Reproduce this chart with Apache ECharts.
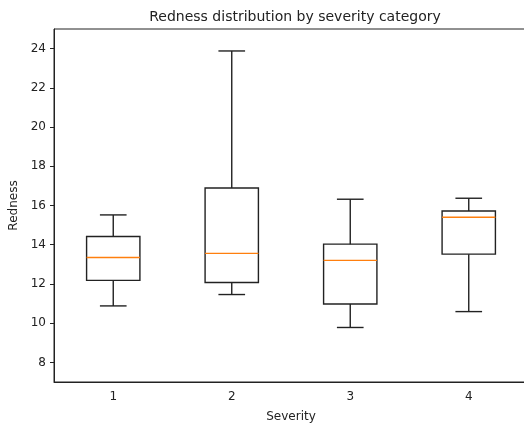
<!DOCTYPE html>
<html>
<head>
<meta charset="utf-8">
<script src="https://cdn.jsdelivr.net/npm/echarts@6/dist/echarts.min.js"></script>
<style>
  html, body { margin: 0; padding: 0; background: #fff; }
  #main { width: 524px; height: 429px; }
</style>
</head>
<body>
<div id="main"></div>
<script>
const categories = ["1", "2", "3", "4"];
const lowerWhisker = [10.88, 11.46, 9.78, 10.59];
const q1 = [12.18, 12.07, 10.98, 13.52];
const median = [13.35, 13.56, 13.2, 15.4];
const q3 = [14.42, 16.89, 14.03, 15.72];
const upperWhisker = [15.52, 23.88, 16.32, 16.37];
const yTicks = [8, 10, 12, 14, 16, 18, 20, 22, 24];

const chart = echarts.init(document.getElementById("main"));
const font = "DejaVu Sans";

const boxData = categories.map((c, i) => [i, lowerWhisker[i], q1[i], median[i], q3[i], upperWhisker[i]]);

// matplotlib style box: caps half as wide as the box
function renderBox(params, api) {
  const x = api.value(0);
  const lo = api.coord([x, api.value(1)]);
  const b1 = api.coord([x, api.value(2)]);
  const md = api.coord([x, api.value(3)]);
  const b3 = api.coord([x, api.value(4)]);
  const hi = api.coord([x, api.value(5)]);
  const bw = api.size([1, 0])[0] * 0.45;
  const cw = bw / 2;
  const cx = lo[0];
  const line = { stroke: "#222", lineWidth: 1.4 };
  return {
    type: "group",
    children: [
      { type: "line", shape: { x1: cx, y1: lo[1], x2: cx, y2: b1[1] }, style: line },
      { type: "line", shape: { x1: cx, y1: b3[1], x2: cx, y2: hi[1] }, style: line },
      { type: "line", shape: { x1: cx - cw / 2, y1: lo[1], x2: cx + cw / 2, y2: lo[1] }, style: line },
      { type: "line", shape: { x1: cx - cw / 2, y1: hi[1], x2: cx + cw / 2, y2: hi[1] }, style: line },
      { type: "rect", shape: { x: cx - bw / 2, y: b3[1], width: bw, height: b1[1] - b3[1] }, style: { fill: "none", stroke: "#222", lineWidth: 1.4 } },
      { type: "line", shape: { x1: cx - bw / 2, y1: md[1], x2: cx + bw / 2, y2: md[1] }, style: { stroke: "#ff7f0e", lineWidth: 1.4 } }
    ]
  };
}

const option = {
  animation: false,
  title: {
    text: "Redness distribution by severity category",
    left: 290,
    top: 5,
    textAlign: "center",
    textStyle: { fontFamily: font, fontSize: 14, fontWeight: "normal", color: "#222" }
  },
  grid: { left: 54, top: 29, right: -4, height: 353, show: true, borderColor: "#222", borderWidth: 1, outerBoundsMode: "none" },
  xAxis: {
    type: "category",
    data: categories,
    name: "Severity",
    nameLocation: "middle",
    nameGap: 29,
    nameTextStyle: { fontFamily: font, fontSize: 12, color: "#222" },
    axisLine: { lineStyle: { color: "#222" } },
    axisTick: { alignWithLabel: true, length: 4, lineStyle: { color: "#222" } },
    axisLabel: { fontFamily: font, fontSize: 12, color: "#222", margin: 9 },
    splitLine: { show: false }
  },
  yAxis: {
    type: "value",
    min: 7,
    max: 25,
    name: "Redness",
    nameLocation: "middle",
    nameRotate: 90,
    nameGap: 31,
    nameTextStyle: { fontFamily: font, fontSize: 12, color: "#222" },
    axisLine: { show: true, lineStyle: { color: "#222" } },
    axisTick: { show: true, length: 4, customValues: yTicks, lineStyle: { color: "#222" } },
    axisLabel: { fontFamily: font, fontSize: 12, color: "#222", margin: 8, customValues: yTicks },
    splitLine: { show: false }
  },
  series: [
    {
      type: "custom",
      renderItem: renderBox,
      data: boxData,
      encode: { x: 0, y: [1, 2, 3, 4, 5] }
    }
  ]
};

chart.setOption(option);
</script>
</body>
</html>
